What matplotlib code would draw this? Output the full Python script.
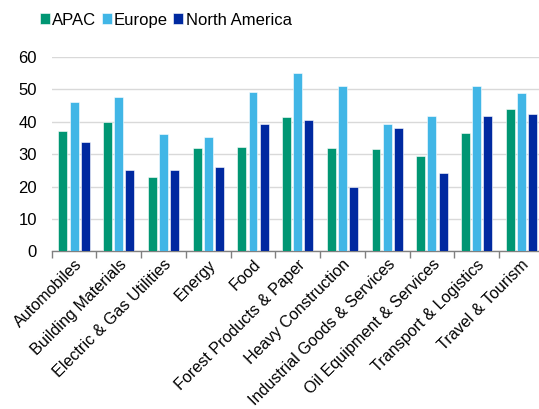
import matplotlib
matplotlib.use("Agg")
import matplotlib.pyplot as plt
import numpy as np

plt.rcParams['font.family'] = ['Liberation Sans', 'DejaVu Sans']

categories = ["Automobiles", "Building Materials", "Electric & Gas Utilities", "Energy",
              "Food", "Forest Products & Paper", "Heavy Construction",
              "Industrial Goods & Services", "Oil Equipment & Services",
              "Transport & Logistics", "Travel & Tourism"]
apac = [37.2, 39.9, 22.9, 31.8, 32.1, 41.4, 31.8, 31.5, 29.5, 36.6, 43.8]
europe = [46.0, 47.6, 36.3, 35.4, 49.2, 55.1, 51.2, 39.2, 41.9, 51.2, 48.8]
north_america = [33.6, 25.1, 25.1, 26.1, 39.2, 40.7, 19.9, 38.2, 24.2, 41.9, 42.5]
series_names = ["APAC", "Europe", "North America"]
colors = ["#009673", "#41B6E6", "#0029A0"]
yticks = [0, 10, 20, 30, 40, 50, 60]

fig = plt.figure(figsize=(5.39, 4.09), dpi=100)
ax = fig.add_axes([0.0959, 0.3856, 0.9129, 0.475])

x = np.arange(len(categories))
width = 0.2
step = 0.25
for i, (vals, name, col) in enumerate(zip([apac, europe, north_america], series_names, colors)):
    ax.bar(x + (i - 1) * step, vals, width, color=col, label=name,
           edgecolor="white", linewidth=0.4, zorder=3)

ax.set_xlim(-0.5, len(categories) - 0.5)
ax.set_ylim(0, 60)
ax.set_yticks(yticks)
ax.yaxis.grid(True, color="#D9D9D9", linewidth=1.0, zorder=0)
ax.tick_params(axis="y", length=0, pad=10.5, labelsize=12, colors="#000000")

# group boundary ticks (major) and category labels (minor)
ax.set_xticks(np.arange(len(categories) + 1) - 0.5)
ax.set_xticklabels([])
ax.set_xticks(x, minor=True)
ax.set_xticklabels(categories, minor=True, rotation=45, ha="right",
                   rotation_mode="anchor", fontsize=11.6)
ax.tick_params(axis="x", which="major", length=5, color="#808080", width=1)
ax.tick_params(axis="x", which="minor", length=0, pad=4)

for s in ["top", "right", "left"]:
    ax.spines[s].set_visible(False)
ax.spines["bottom"].set_color("#808080")
ax.spines["bottom"].set_linewidth(1)

fig.legend(loc="center left", bbox_to_anchor=(0.074, 0.951), ncol=3, frameon=False,
           fontsize=12, handlelength=0.6, handleheight=0.6, handletextpad=0.15,
           columnspacing=0.3, borderaxespad=0, borderpad=0)

fig.savefig("out.png", dpi=100)
